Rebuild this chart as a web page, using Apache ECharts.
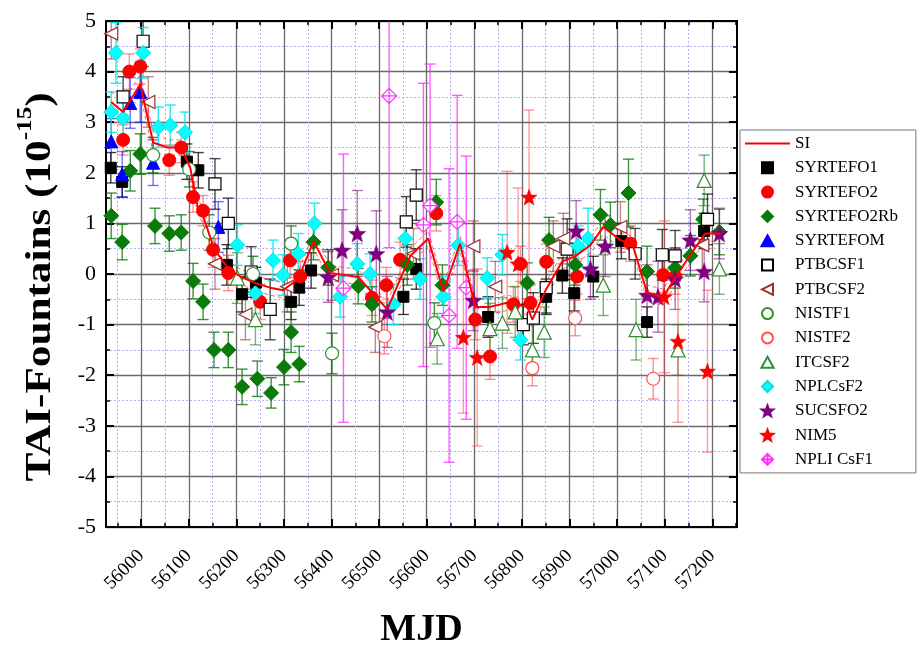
<!DOCTYPE html>
<html><head><meta charset="utf-8">
<script src="https://cdn.jsdelivr.net/npm/echarts@6/dist/echarts.min.js"></script>
<style>html,body{margin:0;padding:0;background:#fff}#c{width:917px;height:648px}</style>
</head><body><div id="c"></div>
<script>
// ---------- axis ranges & tick labels ----------
const X_MIN = 55926, X_MAX = 57252, Y_MIN = -5, Y_MAX = 5;
const X_TICKS = [56000,56100,56200,56300,56400,56500,56600,56700,56800,56900,57000,57100,57200];
const X_MINOR = [55950,56050,56150,56250,56350,56450,56550,56650,56750,56850,56950,57050,57150,57250];

// ---------- SI line ----------
const SI_MJD = [55937,55962,55998,56025,56055,56084,56103,56118,56130,56153,56183,56208,56240,56271,56298,56330,56362,56397,56456,56517,56565,56603,56635,56670,56702,56733,56769,56811,56822,56851,56885,56912,56944,56971,57007,57032,57063,57097,57126,57154,57185,57217];
const SI_VAL = [3.4,3.2,3.75,2.6,2.5,2.5,2.1,1.35,1.15,0.5,0.1,-0.05,-0.18,-0.27,-0.32,-0.1,0.65,0.02,-0.06,-0.7,0.35,0.7,-0.35,0.6,-0.65,-0.65,-0.57,-0.65,-0.9,-0.3,0.25,0.35,0.57,0.93,0.67,0.6,-0.37,-0.45,-0.02,0.38,0.8,0.8];
const SI_U   = [0.2,0.2,0.2,0.2,0.15,0.15,0.15,0.15,0.15,0.15,0.15,0.15,0.15,0.15,0.15,0.15,0.15,0.15,0.15,0.15,0.15,0.15,0.15,0.15,0.15,0.15,0.15,0.15,0.15,0.15,0.15,0.15,0.15,0.15,0.15,0.15,0.15,0.15,0.15,0.15,0.15,0.15];

// ---------- fountain data: [MJD, TAI-fountain, uncertainty] ----------
const SYRTEFO1 = [[55936,2.1,0.3],[55960,1.82,0.3],[56096,2.22,0.35],[56120,2.05,0.35],[56180,0.18,0.4],[56212,-0.4,0.35],[56241,-0.17,0.3],[56315,-0.55,0.35],[56332,-0.27,0.35],[56357,0.07,0.35],[56551,-0.45,0.35],[56578,0.1,0.4],[56729,-0.85,0.4],[56851,-0.45,0.35],[56885,-0.03,0.35],[56910,-0.38,0.35],[56950,-0.05,0.4],[57009,0.65,0.35],[57063,-0.95,0.3],[57183,0.85,0.35]];
const SYRTEFO2 = [[55962,2.65,0.3],[55975,4.0,0.35],[55998,4.1,0.35],[56059,2.25,0.3],[56084,2.5,0.3],[56109,1.52,0.3],[56130,1.25,0.3],[56151,0.48,0.35],[56183,0.02,0.35],[56250,-0.55,0.35],[56313,0.27,0.35],[56334,-0.05,0.3],[56485,-0.47,0.35],[56515,-0.22,0.35],[56544,0.28,0.35],[56620,1.2,0.35],[56702,-0.9,0.4],[56733,-1.63,0.45],[56782,-0.6,0.35],[56797,0.2,0.35],[56818,-0.57,0.35],[56851,0.24,0.35],[56916,-0.05,0.35],[57028,0.6,0.35],[57097,-0.02,0.35],[57122,-0.05,0.35]];
const SYRTEFO2RB = [[55937,1.15,0.45],[55960,0.63,0.35],[55977,2.04,0.4],[55998,2.37,0.4],[56029,0.95,0.35],[56059,0.8,0.35],[56084,0.82,0.35],[56109,-0.14,0.35],[56130,-0.55,0.35],[56153,-1.5,0.35],[56183,-1.5,0.35],[56212,-2.23,0.35],[56244,-2.07,0.35],[56273,-2.35,0.3],[56300,-1.84,0.35],[56315,-1.15,0.4],[56332,-1.78,0.35],[56362,0.63,0.35],[56393,0.13,0.35],[56456,-0.24,0.35],[56485,-0.6,0.35],[56559,0.18,0.4],[56620,1.42,0.45],[56633,-0.22,0.4],[56811,-0.18,0.4],[56857,0.67,0.45],[56912,0.18,0.4],[56965,1.17,0.5],[56986,0.97,0.45],[57024,1.6,0.67],[57063,0.05,0.5],[57122,0.12,0.4],[57154,0.36,0.4],[57181,1.08,0.4],[57215,0.83,0.45]];
const SYRTEFOM = [[55937,2.62,0.45],[55960,1.97,0.45],[55977,3.38,0.5],[55998,3.6,0.6],[56025,2.2,0.45],[56162,0.93,0.5]];
const PTBCSF1 = [[55962,3.5,0.4],[56004,4.6,0.5],[56155,1.78,0.5],[56183,1.0,0.5],[56231,0.04,0.5],[56271,-0.7,0.6],[56557,1.03,0.5],[56578,1.56,0.5],[56803,-1.0,0.4],[56824,-0.87,0.5],[56851,-0.27,0.5],[56895,0.49,0.6],[57038,0.4,0.5],[57095,0.38,0.5],[57122,0.36,0.5],[57190,1.08,0.5]];
const PTBCSF2 = [[55937,4.75,0.5],[56015,3.4,0.5],[56155,0.2,0.5],[56219,-0.8,0.5],[56307,-0.25,0.5],[56401,-0.02,0.5],[56492,-1.05,0.5],[56572,0.4,0.5],[56698,0.55,0.5],[56744,-0.25,0.5],[56866,0.55,0.5],[56887,0.7,0.5],[57007,0.93,0.5],[57179,0.57,0.5]];
const NISTF1 = [[56025,2.35,0.35],[56101,2.07,0.35],[56143,0.82,0.35],[56235,0.0,0.35],[56315,0.6,0.35],[56401,-1.57,0.4],[56616,-0.97,0.4]];
const NISTF2 = [[56511,-1.23,0.35],[56822,-1.86,0.35],[56912,-0.87,0.35],[57076,-2.07,0.4]];
const ITCSF2 = [[56202,-0.08,0.5],[56240,-0.9,0.5],[56622,-1.28,0.5],[56733,-1.08,0.5],[56759,-0.97,0.5],[56786,-0.75,0.5],[56822,-1.5,0.5],[56847,-1.15,0.5],[56971,-0.22,0.6],[57040,-1.1,0.6],[57128,-1.5,0.5],[57183,1.85,0.5],[57215,0.1,0.5]];
const NPLCSF2 = [[55937,3.2,0.4],[55947,4.37,0.6],[55962,3.08,0.4],[56004,4.37,0.5],[56036,2.9,0.4],[56061,2.94,0.4],[56092,2.8,0.4],[56202,0.57,0.4],[56240,-0.38,0.4],[56277,0.27,0.4],[56298,-0.02,0.4],[56330,0.4,0.4],[56364,1.0,0.4],[56418,-0.45,0.4],[56454,0.2,0.4],[56481,0.0,0.4],[56530,-0.6,0.4],[56555,0.7,0.4],[56586,-0.1,0.4],[56635,-0.45,0.4],[56666,0.57,0.4],[56727,-0.08,0.4],[56759,0.38,0.4],[56797,-1.3,0.4],[56918,0.55,0.4],[56939,0.7,0.6]];
const SUCSFO2 = [[56393,-0.06,0.5],[56422,0.47,0.8],[56454,0.8,0.85],[56494,0.4,0.85],[56517,-0.75,0.7],[56698,-0.52,0.6],[56914,0.85,0.6],[56944,0.1,0.6],[56975,0.55,0.6],[57063,-0.42,0.6],[57086,-0.45,0.7],[57122,-0.1,0.6],[57154,0.67,0.6],[57183,0.05,0.6],[57215,0.8,0.5]];
const NIM5 = [[56677,-1.25,1.5],[56706,-1.65,1.75],[56769,0.43,1.6],[56792,0.2,1.5],[56815,1.52,1.72],[57099,-0.45,1.5],[57128,-1.33,1.6],[57190,-1.92,1.6]];
const NPLICSF1 = [[56425,-0.28,2.65],[56521,3.52,3.0],[56593,0.97,2.8],[56607,1.35,2.8],[56647,-0.82,2.9],[56664,1.03,2.5],[56683,-0.27,2.6]];

// ---------- styles ----------
const SERIF = "'Liberation Serif','Times New Roman',serif";
const P_SQ = 'path://M0,0H10V10H0Z';
const P_DIA = 'path://M5,0L10,5L5,10L0,5Z';
const P_TRI = 'path://M5,0L10,9L0,9Z';
const P_LTRI = 'path://M0,5L10,0L10,10Z';
const P_CIR = 'circle';
const P_STAR = 'path://M5,0L6.23,3.3L9.76,3.45L7,5.65L7.94,9.05L5,7.1L2.06,9.05L3,5.65L0.24,3.45L3.77,3.3Z';
const P_NPLI = 'path://M5,0L10,5L5,10L0,5Z M5,0L5,10 M0,5L10,5';
const P_LINE = 'path://M0,0H45V2.2H0Z';

const GROUPS = [
  {name:'SYRTEFO1', data:SYRTEFO1, sym:P_SQ, size:11, fill:'#000', stroke:'#000', bw:1, bar:'rgba(0,0,0,0.75)'},
  {name:'SYRTEFO2', data:SYRTEFO2, sym:P_CIR, size:13, fill:'#ff0000', stroke:'#ff0000', bw:1, bar:'rgba(255,40,40,0.5)'},
  {name:'SYRTEFO2Rb', data:SYRTEFO2RB, sym:P_DIA, size:15, fill:'#0a7a0a', stroke:'#0a7a0a', bw:1, bar:'rgba(10,120,10,0.8)'},
  {name:'SYRTEFOM', data:SYRTEFOM, sym:P_TRI, size:13, fill:'#0000ff', stroke:'#0000ff', bw:1, bar:'rgba(0,0,255,0.55)'},
  {name:'PTBCSF1', data:PTBCSF1, sym:P_SQ, size:12, fill:'#fff', stroke:'#000', bw:1.2, bar:'rgba(0,0,0,0.7)'},
  {name:'PTBCSF2', data:PTBCSF2, sym:P_LTRI, size:13, fill:'#fff', stroke:'#9a3030', bw:1.2, bar:'rgba(150,40,40,0.55)'},
  {name:'NISTF1', data:NISTF1, sym:P_CIR, size:13, fill:'#fff', stroke:'#2f8f2f', bw:1.2, bar:'rgba(20,110,20,0.8)'},
  {name:'NISTF2', data:NISTF2, sym:P_CIR, size:13, fill:'#fff', stroke:'#ff5050', bw:1.2, bar:'rgba(255,70,70,0.6)'},
  {name:'ITCSF2', data:ITCSF2, sym:P_TRI, size:14, fill:'#fff', stroke:'#2f8f2f', bw:1.2, bar:'rgba(30,130,30,0.6)'},
  {name:'NPLCsF2', data:NPLCSF2, sym:P_DIA, size:15, fill:'#00ffff', stroke:'#00e0e0', bw:1, bar:'rgba(0,230,230,0.85)'},
  {name:'SUCSFO2', data:SUCSFO2, sym:P_STAR, size:17, fill:'#800080', stroke:'#800080', bw:0.5, bar:'rgba(128,0,128,0.55)'},
  {name:'NIM5', data:NIM5, sym:P_STAR, size:16, fill:'#ff0000', stroke:'#ff0000', bw:0.5, bar:'rgba(255,60,60,0.5)'},
  {name:'NPLI CsF1', data:NPLICSF1, sym:P_NPLI, size:15, fill:'#fff', stroke:'#ff33ff', bw:1.2, bar:'rgba(255,40,255,0.75)'}
];

const HW = 5.5;
function barRenderer(color){
  return function(params, api){
    const x = api.value(0), y = api.value(1), e = api.value(2);
    const hi = y + e, lo = y - e;
    const pT = api.coord([x, Math.min(hi, Y_MAX)]);
    const pB = api.coord([x, Math.max(lo, Y_MIN)]);
    const st = {stroke: color, lineWidth: 1.4};
    const ch = [{type:'line', shape:{x1:pT[0], y1:pT[1], x2:pB[0], y2:pB[1]}, style:st}];
    if (hi <= Y_MAX) ch.push({type:'line', shape:{x1:pT[0]-HW, y1:pT[1], x2:pT[0]+HW, y2:pT[1]}, style:st});
    if (lo >= Y_MIN) ch.push({type:'line', shape:{x1:pB[0]-HW, y1:pB[1], x2:pB[0]+HW, y2:pB[1]}, style:st});
    return {type:'group', children:ch};
  };
}

const series = [];
GROUPS.forEach(g => {
  series.push({type:'custom', name:g.name + ' err', data:g.data, encode:{x:0, y:1},
    renderItem:barRenderer(g.bar), z:2, silent:true});
});
series.push({type:'line', name:'SI+u', data:SI_MJD.map((m,i)=>[m, SI_VAL[i]+SI_U[i]]), symbol:'none',
  lineStyle:{color:'rgba(255,0,0,0.6)', width:1, type:[4,3]}, z:3, silent:true});
series.push({type:'line', name:'SI-u', data:SI_MJD.map((m,i)=>[m, SI_VAL[i]-SI_U[i]]), symbol:'none',
  lineStyle:{color:'rgba(255,0,0,0.6)', width:1, type:[4,3]}, z:3, silent:true});
GROUPS.forEach(g => {
  series.push({type:'scatter', name:g.name, data:g.data.map(d=>[d[0], d[1]]), symbol:g.sym, symbolSize:g.size,
    itemStyle:{color:g.fill, borderColor:g.stroke, borderWidth:g.bw, opacity:1}, z:4});
});
series.push({type:'line', name:'SI', data:SI_MJD.map((m,i)=>[m, SI_VAL[i]]), symbol:'none',
  lineStyle:{color:'#ff0000', width:2}, itemStyle:{color:'#ff0000'}, z:5});

const majorTickStyle = {show:true, inside:true, length:8, lineStyle:{color:'#000', width:2}};
const minorTickStyle = {show:true, inside:true, length:4, lineStyle:{color:'#000', width:1.5}};
const baseX = {type:'value', min:X_MIN, max:X_MAX, gridIndex:0};

const option = {
  animation:false,
  backgroundColor:'#fff',
  grid:{left:106, top:21, right:180, bottom:121, show:false, outerBoundsMode:'none', containLabel:false},
  graphic:[{
    type:'text', x:37, y:287, rotation:Math.PI/2, scaleX:1.2, scaleY:1,
    style:{
      text:'{a|TAI-Fountains (10}{s|-15}{a|)}', align:'center', verticalAlign:'middle',
      rich:{
        a:{fontFamily:SERIF, fontSize:36, fontWeight:'bold', fill:'#000', lineHeight:44, verticalAlign:'bottom'},
        s:{fontFamily:SERIF, fontSize:21, fontWeight:'bold', fill:'#000', lineHeight:44, verticalAlign:'top'}
      }
    }
  }],
  legend:{
    orient:'vertical', left:740, top:130, itemWidth:45, itemHeight:11, itemGap:7.3,
    padding:[5,18,5,5], borderColor:'#777', borderWidth:1, backgroundColor:'#fff',
    textStyle:{fontFamily:SERIF, fontSize:17, color:'#000'},
    data:[{name:'SI', icon:P_LINE}].concat(GROUPS.map(g=>g.name))
  },
  xAxis:[
    Object.assign({}, baseX, {position:'bottom',
      name:'MJD', nameLocation:'middle', nameGap:84,
      nameTextStyle:{fontFamily:SERIF, fontSize:38, fontWeight:'bold', color:'#000'},
      axisLine:{show:true, onZero:false, lineStyle:{color:'#000', width:2}},
      axisTick:Object.assign({}, majorTickStyle, {customValues:X_TICKS}),
      axisLabel:{show:true, customValues:X_TICKS, rotate:45, margin:26, fontFamily:SERIF, fontSize:19, color:'#000',
        formatter:v=>String(v)},
      splitLine:{show:true, lineStyle:{color:'#6a6a6a', width:1.3}}}),
    Object.assign({}, baseX, {position:'bottom',
      axisLine:{show:false, onZero:false},
      axisTick:Object.assign({}, minorTickStyle, {customValues:X_MINOR}),
      axisLabel:{show:false},
      splitLine:{show:true, lineStyle:{color:'#b0b0f0', width:1, type:[2,2]}}}),
    Object.assign({}, baseX, {position:'top',
      axisLine:{show:true, onZero:false, lineStyle:{color:'#000', width:2}},
      axisTick:Object.assign({}, majorTickStyle, {customValues:X_TICKS}),
      axisLabel:{show:false}, splitLine:{show:false}}),
    Object.assign({}, baseX, {position:'top',
      axisLine:{show:false, onZero:false},
      axisTick:Object.assign({}, minorTickStyle, {customValues:X_MINOR}),
      axisLabel:{show:false}, splitLine:{show:false}})
  ],
  yAxis:[
    {type:'value', min:Y_MIN, max:Y_MAX, interval:1, position:'left',
      axisLine:{show:true, onZero:false, lineStyle:{color:'#000', width:2}},
      axisTick:majorTickStyle,
      minorTick:{show:true, splitNumber:2, length:4, lineStyle:{color:'#000', width:1.5}},
      axisLabel:{show:true, margin:10, fontFamily:SERIF, fontSize:22, color:'#000'},
      splitLine:{show:true, lineStyle:{color:'#6a6a6a', width:1.3}},
      minorSplitLine:{show:true, lineStyle:{color:'#b0b0f0', width:1, type:[2,2]}}},
    {type:'value', min:Y_MIN, max:Y_MAX, interval:1, position:'right',
      axisLine:{show:true, onZero:false, lineStyle:{color:'#000', width:2}},
      axisTick:majorTickStyle,
      minorTick:{show:true, splitNumber:2, length:4, lineStyle:{color:'#000', width:1.5}},
      axisLabel:{show:false}, splitLine:{show:false}}
  ],
  series:series
};

const chart = echarts.init(document.getElementById('c'), null, {renderer:'canvas'});
chart.setOption(option);
</script>
</body></html>
